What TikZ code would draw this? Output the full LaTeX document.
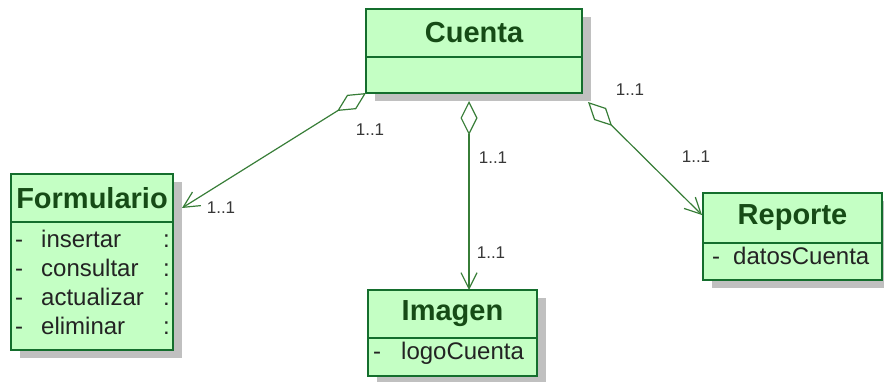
\documentclass[tikz,border=0pt]{standalone}
\usepackage{fontspec}
\setmainfont{Liberation Sans}
\usetikzlibrary{positioning,arrows.meta,shadows,calc}
\definecolor{cFill}{RGB}{196,255,196}
\definecolor{cEdge}{RGB}{20,110,45}
\definecolor{cTitle}{RGB}{22,75,22}
\definecolor{cText}{RGB}{35,35,35}
\definecolor{cLink}{RGB}{55,125,55}
\definecolor{cLabel}{RGB}{55,55,55}
\definecolor{cShade}{RGB}{192,192,192}

\begin{document}
\begin{tikzpicture}[x=1pt,y=-1pt,
   clshead/.style={draw=cEdge,line width=2.6pt,fill=cFill,inner sep=0pt,outer sep=0pt,
     font=\fontsize{29}{32}\selectfont\bfseries,text=cTitle,
     drop shadow={shadow xshift=9pt,shadow yshift=-8pt,fill=cShade,opacity=1}},
   clsbody/.style={clshead,font=\fontsize{24}{27}\selectfont,text=cText},
   membtxt/.style={inner sep=0pt,anchor=mid west,font=\fontsize{24}{27}\selectfont,text=cText},
   mult/.style={inner sep=0pt,font=\fontsize{17}{19}\selectfont,text=cLabel},
   aggr/.style={draw=cLink,line width=1.2pt,
     {Diamond[open,length=34pt,width=17pt]}-{Straight Barb[length=16pt,width=16pt]}}]
  \useasboundingbox (0,0) rectangle (884,381);
  % Cuenta
  \node[clshead,minimum width=216pt,minimum height=48pt] (cuentah) at (474,33) {Cuenta};
  \node[clsbody,minimum width=216pt,minimum height=36pt,below=0pt of cuentah] (cuentab) {};
  % Formulario
  \node[clshead,minimum width=162pt,minimum height=48pt] (formh) at (92,198) {Formulario};
  \node[clsbody,minimum width=162pt,minimum height=128pt,below=0pt of formh] (formb) {};
  \foreach \op [count=\i] in {insertar,consultar,actualizar,eliminar}{
    \node[membtxt] (fdash\i) at (15,216+29*\i) {-};
    \node[membtxt] (fop\i) at (41,216+29*\i) {\op};
    \node[membtxt] (fcol\i) at (163,216+29*\i) {:};
  }
  % Imagen
  \node[clshead,minimum width=169pt,minimum height=48pt] (imgh) at (452.5,314) {Imagen};
  \node[clsbody,minimum width=169pt,minimum height=38pt,below=0pt of imgh] (imgb) {};
  \node[membtxt] (idash) at (373,357) {-};
  \node[membtxt] (iattr) at (401,357) {logoCuenta};
  % Reporte
  \node[clshead,minimum width=179pt,minimum height=50pt] (reph) at (792.5,218) {Reporte};
  \node[clsbody,minimum width=179pt,minimum height=37pt,below=0pt of reph] (repb) {};
  \node[membtxt] (rdash) at (712,262) {-};
  \node[membtxt] (rattr) at (733,262) {datosCuenta};
  % aggregations
  \draw[aggr] (cuentab.south west) -- ($(formh.east)+(9,10)$);
  \draw[aggr] ($(cuentab.south)+(-5,8)$) -- ($(imgh.north)+(16.5,0)$);
  \draw[aggr] ($(cuentab.south east)+(6,9)$) -- ($(reph.west)+(-1,-3)$);
  % multiplicities
  \node[mult] (mF1) at (370,130) {1..1};
  \node[mult] (mF2) at (221,208) {1..1};
  \node[mult] (mI1) at (493,158) {1..1};
  \node[mult] (mI2) at (491,253) {1..1};
  \node[mult] (mR1) at (630,90) {1..1};
  \node[mult] (mR2) at (696,157) {1..1};
\end{tikzpicture}
\end{document}
